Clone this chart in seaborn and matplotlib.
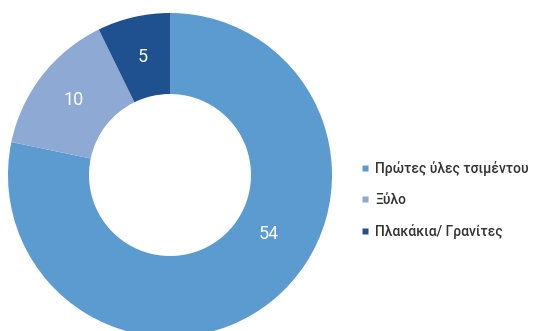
import numpy as np
import matplotlib
matplotlib.use("Agg")
import matplotlib.pyplot as plt
from matplotlib.lines import Line2D
import seaborn as sns

categories = ["Πρώτες ύλες τσιμέντου", "Ξύλο", "Πλακάκια/ Γρανίτες"]
values = [54, 10, 5]
colors = ["#5b9bd0", "#8eaad4", "#1f5190"]

sns.set_theme(style="white")
plt.rcParams["font.family"] = ["Roboto", "DejaVu Sans"]

fig = plt.figure(figsize=(5.39, 3.31), dpi=100)
fig.patch.set_facecolor("white")

W, H = 539, 331
cx, cy, r = 170, 331 - 175, 162
ax = fig.add_axes([(cx - r) / W, (cy - r) / H, 2 * r / W, 2 * r / H])

wedges, _ = ax.pie(
    values,
    colors=colors,
    startangle=90,
    counterclock=False,
    radius=1,
    wedgeprops=dict(width=0.5, edgecolor="none"),
)
ax.set_xlim(-1, 1)
ax.set_ylim(-1, 1)
ax.set_aspect("equal")
ax.axis("off")

# place each value label inside its wedge; the large wedge label sits a bit past its middle
frac = [0.57, 0.5, 0.5]
label_r = [0.71, 0.75, 0.75]
for w, v, f, lr in zip(wedges, values, frac, label_r):
    ang = np.deg2rad(w.theta1 + f * (w.theta2 - w.theta1))
    ax.text(lr * np.cos(ang), lr * np.sin(ang), str(v), color="white",
            fontsize=13, ha="center", va="center")

handles = [Line2D([], [], marker="s", linestyle="none", markersize=5,
                  markerfacecolor=c, markeredgecolor="none") for c in colors]
fig.legend(handles, categories, loc="center left",
           bbox_to_anchor=(348 / W, 1 - 200 / H), frameon=False,
           handlelength=0.6, handletextpad=0.45,
           labelspacing=1.25, labelcolor="#333333",
           prop=dict(family="Roboto", size=10, weight="medium"))

fig.savefig("out.png", dpi=100, facecolor="white")
